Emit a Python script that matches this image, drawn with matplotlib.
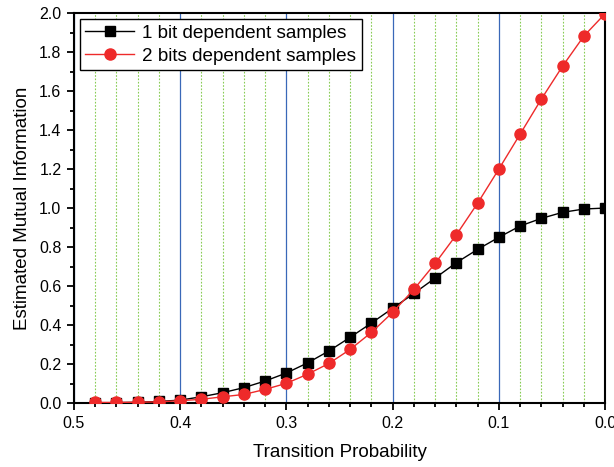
import numpy as np
import matplotlib
matplotlib.use("Agg")
import matplotlib.pyplot as plt
from matplotlib.ticker import MultipleLocator

plt.rcParams['font.family'] = ['Liberation Sans', 'DejaVu Sans']

# transition probability, 0.48 down to 0.00
p = [0.48, 0.46, 0.44, 0.42, 0.40, 0.38, 0.36, 0.34, 0.32, 0.30, 0.28, 0.26,
     0.24, 0.22, 0.20, 0.18, 0.16, 0.14, 0.12, 0.10, 0.08, 0.06, 0.04, 0.02, 0.00]

mi_1bit = [0.001, 0.002, 0.004, 0.008, 0.015, 0.032, 0.053, 0.079, 0.113, 0.154,
           0.206, 0.267, 0.337, 0.410, 0.486, 0.562, 0.641, 0.720, 0.788, 0.850,
           0.908, 0.947, 0.978, 0.995, 1.000]
mi_2bits = [0.003, 0.003, 0.004, 0.006, 0.012, 0.019, 0.032, 0.044, 0.070, 0.101,
            0.148, 0.203, 0.275, 0.362, 0.465, 0.583, 0.716, 0.863, 1.025, 1.200,
            1.379, 1.559, 1.728, 1.882, 1.997]

fig = plt.figure(figsize=(6.14, 4.67), dpi=100)
ax = fig.add_axes([0.1205, 0.137, 0.865, 0.835])

ax.plot(p, mi_1bit, color='black', lw=1, marker='s', ms=6.5, label='1 bit dependent samples', zorder=3)
ax.plot(p, mi_2bits, color='#ee2a2a', lw=1, marker='o', ms=8, label='2 bits dependent samples', zorder=4)

ax.set_xlim(0.5, 0.0)
ax.set_ylim(0, 2.0)
ax.xaxis.set_major_locator(MultipleLocator(0.1))
ax.xaxis.set_minor_locator(MultipleLocator(0.02))
ax.yaxis.set_major_locator(MultipleLocator(0.2))
ax.yaxis.set_minor_locator(MultipleLocator(0.1))
ax.xaxis.set_major_formatter(lambda v, pos: f'{v:.1f}')
ax.yaxis.set_major_formatter(lambda v, pos: f'{v:.1f}')

ax.grid(which='major', axis='x', color='#3a68b8', lw=0.9, ls='-')
ax.grid(which='minor', axis='x', color='#88cc55', lw=0.8, ls=(0, (1.5, 1.5)))
ax.set_axisbelow(True)

ax.tick_params(which='major', direction='out', length=5, width=1.3, labelsize=11.5, pad=4)
ax.tick_params(which='minor', direction='out', length=3, width=1.3)
for s in ax.spines.values():
    s.set_linewidth(1.5)

ax.set_xlabel('Transition Probability', fontsize=13.5, labelpad=10)
ax.set_ylabel('Estimated Mutual Information', fontsize=13.5, labelpad=6)

leg = ax.legend(loc='upper left', fontsize=13.6, fancybox=False, framealpha=1,
                edgecolor='black', borderaxespad=0.3, handlelength=2.6,
                borderpad=0.3, labelspacing=0.3, handletextpad=0.4)
leg.get_frame().set_linewidth(1.0)

fig.savefig('out.png', dpi=100)
